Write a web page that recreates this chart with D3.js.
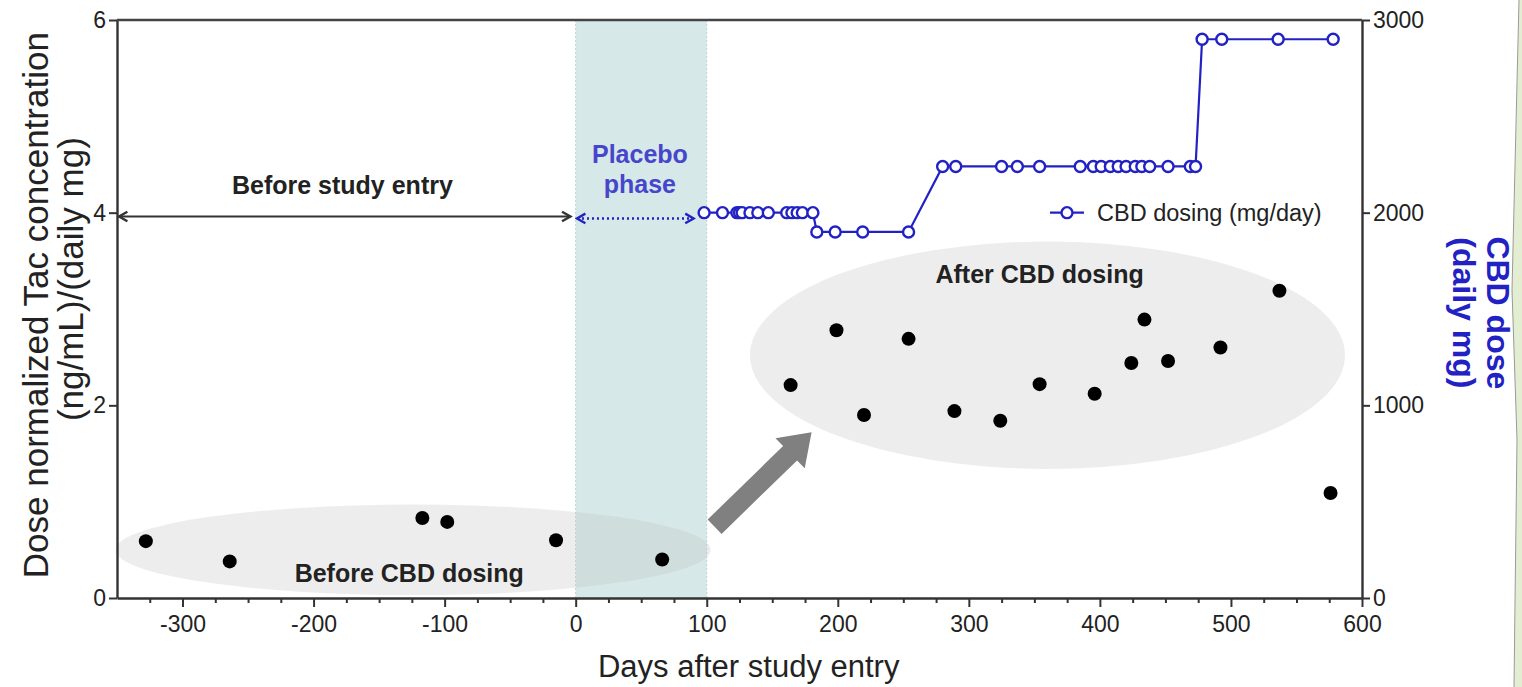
<!DOCTYPE html>
<html>
<head>
<meta charset="utf-8">
<script src="https://cdn.jsdelivr.net/npm/d3@7"></script>
<style>
  html, body { margin: 0; padding: 0; background: #fff; }
  svg { display: block; font-family: Arial, "Liberation Sans", sans-serif; }
</style>
</head>
<body>
<div class="chart"></div>
<script>
"use strict";

// Tac concentration (dose normalized), black dots
const tacDays = [-328, -264, -117, -98, -15, 66,
  164, 199, 220, 254, 289, 324, 354, 396, 424, 434, 452, 492, 537, 576];
const tacValues = [0.59, 0.38, 0.83, 0.79, 0.60, 0.40,
  2.21, 2.78, 1.90, 2.69, 1.94, 1.84, 2.22, 2.12, 2.44, 2.89, 2.46, 2.60, 3.19, 1.09];

// CBD dosing (mg/day), blue open circles
const cbdDays = [98, 112, 123, 125, 127, 133, 139, 147, 161, 165, 169, 173, 181,
  184, 198, 219, 254,
  280, 290, 325, 337, 354, 385, 395, 401, 408, 414, 420, 427, 432, 438, 452, 469, 473,
  478, 493, 536, 578];
const cbdDose = [2000, 2000, 2000, 2000, 2000, 2000, 2000, 2000, 2000, 2000, 2000, 2000, 2000,
  1900, 1900, 1900, 1900,
  2240, 2240, 2240, 2240, 2240, 2240, 2240, 2240, 2240, 2240, 2240, 2240, 2240, 2240, 2240, 2240, 2240,
  2900, 2900, 2900, 2900];

const xMajorTicks = [-300, -200, -100, 0, 100, 200, 300, 400, 500, 600];
const yLeftTicks = [0, 2, 4, 6];
const yRightTicks = [0, 1000, 2000, 3000];
const placeboPhase = [0, 100];

const W = 1522, H = 687;
const m = {left: 117, right: 160, top: 20, bottom: 89};
const blue = "#2222c4";

const svg = d3.select(".chart").append("svg")
    .attr("width", W).attr("height", H);

const x = d3.scaleLinear().domain([-350, 600]).range([m.left, W - m.right]);
const yL = d3.scaleLinear().domain([0, 6]).range([H - m.bottom, m.top]);
const yR = d3.scaleLinear().domain([0, 3000]).range([H - m.bottom, m.top]);

// slide edge in the corner
svg.append("path")
    .attr("d", "M1519,0 L1512,290 L1517,440 L1514,687 L1522,687 L1522,0 Z")
    .attr("fill", "#e3edd2");
svg.append("path")
    .attr("d", "M1519,0 L1512,290 L1517,440 L1514,687")
    .attr("fill", "none").attr("stroke", "#9a9a9a").attr("stroke-width", 1);

// placebo band
svg.append("rect")
    .attr("x", x(placeboPhase[0])).attr("y", yL(6))
    .attr("width", x(placeboPhase[1]) - x(placeboPhase[0]))
    .attr("height", yL(0) - yL(6))
    .attr("fill", "#d6e8e8");
placeboPhase.forEach(d => {
    svg.append("line")
        .attr("x1", x(d)).attr("x2", x(d))
        .attr("y1", yL(6)).attr("y2", yL(0))
        .attr("stroke", "#b9d3d3").attr("stroke-dasharray", "2,2");
});

// group ellipses
svg.append("ellipse")
    .attr("cx", x(-124)).attr("cy", yL(0.5))
    .attr("rx", x(227) - x(0)).attr("ry", yL(0) - yL(0.47))
    .attr("fill", "#c4c4c4").attr("fill-opacity", 0.3);
svg.append("ellipse")
    .attr("cx", x(360)).attr("cy", yL(2.52))
    .attr("rx", x(227) - x(0)).attr("ry", yL(0) - yL(1.18))
    .attr("fill", "#c4c4c4").attr("fill-opacity", 0.3);

// big gray arrow between groups
(function () {
    const x0 = x(106), y0 = yL(0.74), x1 = x(180), y1 = yL(1.72);
    const ang = Math.atan2(y1 - y0, x1 - x0) * 180 / Math.PI;
    const len = Math.hypot(x1 - x0, y1 - y0);
    svg.append("path")
        .attr("transform", "translate(" + x0 + "," + y0 + ") rotate(" + ang + ")")
        .attr("d", "M0,-10 L" + (len - 30) + ",-10 L" + (len - 30) + ",-21 L" + len + ",0 L"
            + (len - 30) + ",21 L" + (len - 30) + ",10 L0,10 Z")
        .attr("fill", "#808080");
})();

// axes
const fmt = d => String(d);
const xMinor = d3.range(-325, 600, 25).filter(d => d % 100 !== 0);
svg.append("g")
    .attr("transform", "translate(0," + yL(0) + ")")
    .call(d3.axisBottom(x).tickValues(xMinor).tickSize(5).tickFormat(""))
    .call(g => g.select(".domain").remove());
const gx = svg.append("g")
    .attr("transform", "translate(0," + yL(0) + ")")
    .call(d3.axisBottom(x).tickValues(xMajorTicks).tickSize(9).tickSizeOuter(0).tickPadding(9).tickFormat(fmt));
const gy = svg.append("g")
    .attr("transform", "translate(" + m.left + ",0)")
    .call(d3.axisLeft(yL).tickValues(yLeftTicks).tickSize(8).tickSizeOuter(0).tickPadding(3).tickFormat(fmt));
const gr = svg.append("g")
    .attr("transform", "translate(" + (W - m.right) + ",0)")
    .call(d3.axisRight(yR).tickValues(yRightTicks).tickSize(8).tickSizeOuter(0).tickPadding(3).tickFormat(fmt));
[gx, gy, gr].forEach(g => {
    g.selectAll(".domain").attr("stroke", "#333").attr("stroke-width", 2.4);
    g.selectAll(".tick text").attr("fill", "#222").style("font-size", "23px");
});
svg.selectAll(".tick line").attr("stroke", "#333").attr("stroke-width", 2);
svg.append("line")
    .attr("x1", m.left).attr("x2", W - m.right)
    .attr("y1", yL(6)).attr("y2", yL(6))
    .attr("stroke", "#444").attr("stroke-width", 2.4);

// axis titles
svg.append("text")
    .attr("x", x(132)).attr("y", 677)
    .attr("text-anchor", "middle").attr("fill", "#222")
    .style("font-size", "31px")
    .text("Days after study entry");
const lt = svg.append("text")
    .attr("transform", "translate(48," + yL(3.04) + ") rotate(-90)")
    .attr("text-anchor", "middle").attr("fill", "#222")
    .style("font-size", "35px");
lt.append("tspan").attr("x", 0).attr("y", 0).text("Dose normalized Tac concentration");
lt.append("tspan").attr("x", 26).attr("y", 35).text("(ng/mL)/(daily mg)");
const rt = svg.append("text")
    .attr("transform", "translate(1487," + yR(1480) + ") rotate(90)")
    .attr("text-anchor", "middle").attr("fill", blue)
    .style("font-size", "32px").style("font-weight", "bold");
rt.append("tspan").attr("x", 0).attr("y", 0).text("CBD dose");
rt.append("tspan").attr("x", 0).attr("y", 34).text("(daily mg)");

// phase arrows and labels
svg.append("defs").call(d => {
    d.append("marker").attr("id", "hb").attr("viewBox", "0 0 10 10")
        .attr("refX", 8).attr("refY", 5).attr("markerUnits", "userSpaceOnUse")
        .attr("markerWidth", 12).attr("markerHeight", 14)
        .attr("orient", "auto-start-reverse")
        .append("path").attr("d", "M1,1 L8,5 L1,9").attr("fill", "none")
        .attr("stroke", "#333").attr("stroke-width", 2);
    d.append("marker").attr("id", "hbb").attr("viewBox", "0 0 10 10")
        .attr("refX", 8).attr("refY", 5).attr("markerUnits", "userSpaceOnUse")
        .attr("markerWidth", 12).attr("markerHeight", 14)
        .attr("orient", "auto-start-reverse")
        .append("path").attr("d", "M1,1 L8,5 L1,9").attr("fill", "none")
        .attr("stroke", blue).attr("stroke-width", 2);
});
svg.append("line")
    .attr("x1", x(-350) + 2).attr("x2", x(-4))
    .attr("y1", yL(3.96)).attr("y2", yL(3.96))
    .attr("stroke", "#333").attr("stroke-width", 2.2)
    .attr("marker-start", "url(#hb)").attr("marker-end", "url(#hb)");
svg.append("line")
    .attr("x1", x(1)).attr("x2", x(90))
    .attr("y1", yL(3.94)).attr("y2", yL(3.94))
    .attr("stroke", blue).attr("stroke-width", 2.4).attr("stroke-dasharray", "2,3")
    .attr("marker-start", "url(#hbb)").attr("marker-end", "url(#hbb)");

const label = (xv, yv, txt) => svg.append("text")
    .attr("x", x(xv)).attr("y", yv)
    .attr("text-anchor", "middle").attr("fill", "#222")
    .style("font-size", "25px").style("font-weight", "bold")
    .text(txt);
label(-178, 194, "Before study entry");
label(354, 283, "After CBD dosing");
label(-127, 582, "Before CBD dosing");
const pl = svg.append("text")
    .attr("text-anchor", "middle").attr("fill", "#4646cc")
    .style("font-size", "25px").style("font-weight", "bold");
pl.append("tspan").attr("x", x(49)).attr("y", 163).text("Placebo");
pl.append("tspan").attr("x", x(49)).attr("y", 193).text("phase");

// CBD dosing line
const cbd = cbdDays.map((d, i) => ({day: d, dose: cbdDose[i]}));
svg.append("path")
    .datum(cbd)
    .attr("fill", "none").attr("stroke", blue).attr("stroke-width", 2.2)
    .attr("d", d3.line().x(d => x(d.day)).y(d => yR(d.dose)));
svg.selectAll(".cbd").data(cbd).join("circle")
    .attr("class", "cbd")
    .attr("cx", d => x(d.day)).attr("cy", d => yR(d.dose)).attr("r", 5.5)
    .attr("fill", "#fff").attr("stroke", blue).attr("stroke-width", 2.4);

// Tac dots
const tac = tacDays.map((d, i) => ({day: d, val: tacValues[i]}));
svg.selectAll(".tac").data(tac).join("circle")
    .attr("class", "tac")
    .attr("cx", d => x(d.day)).attr("cy", d => yL(d.val)).attr("r", 7)
    .attr("fill", "#000");

// legend
const lg = svg.append("g").attr("transform", "translate(1050," + yR(2000) + ")");
lg.append("line").attr("x1", 0).attr("x2", 34).attr("stroke", blue).attr("stroke-width", 2.2);
lg.append("circle").attr("cx", 17).attr("r", 5.5)
    .attr("fill", "#fff").attr("stroke", blue).attr("stroke-width", 2.4);
lg.append("text").attr("x", 47).attr("y", 8)
    .attr("fill", "#222").style("font-size", "23.5px")
    .text("CBD dosing (mg/day)");
</script>
</body>
</html>
